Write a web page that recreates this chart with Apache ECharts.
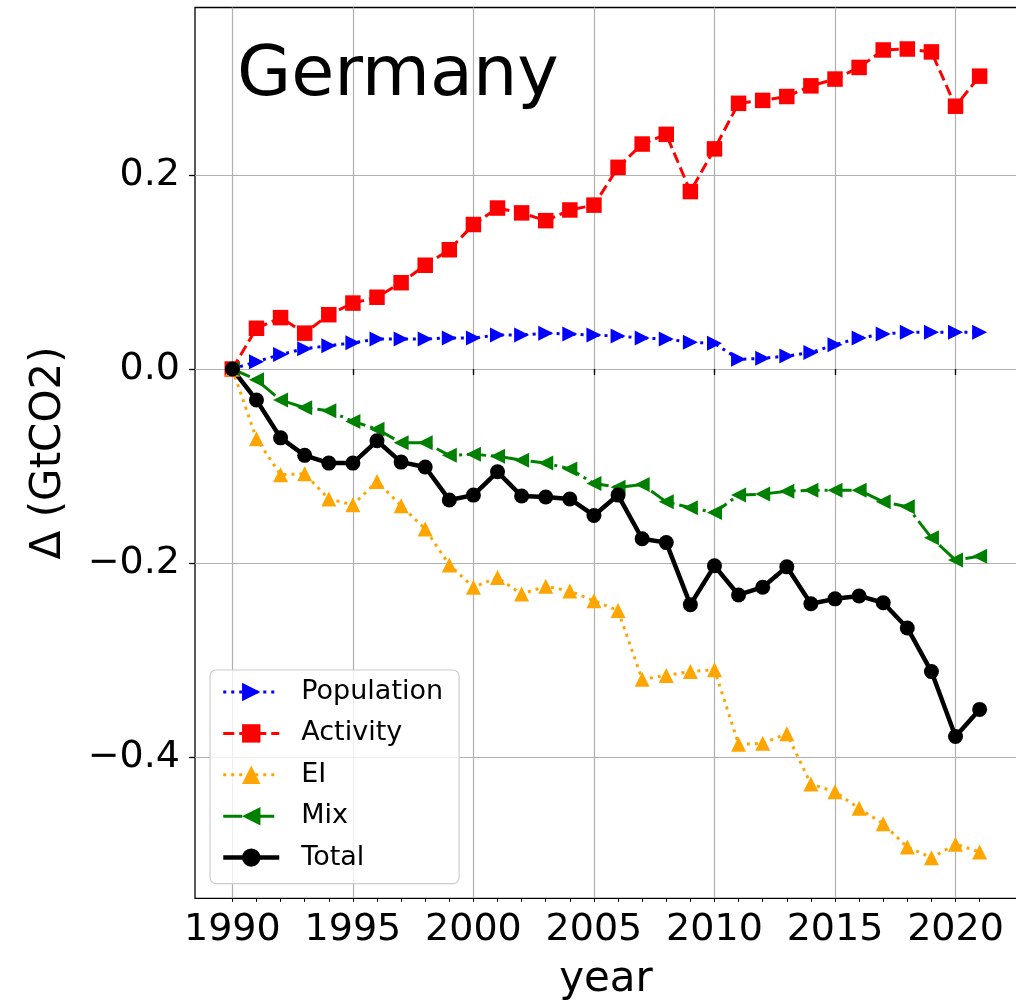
<!DOCTYPE html>
<html>
<head>
<meta charset="utf-8">
<script src="https://cdn.jsdelivr.net/npm/echarts@6/dist/echarts.min.js"></script>
<style>
html,body{margin:0;padding:0;background:#fff;}
#chart{width:1016px;height:1002px;}
</style>
</head>
<body>
<div id="chart"></div>
<script>
const years = [1990,1991,1992,1993,1994,1995,1996,1997,1998,1999,2000,2001,2002,2003,2004,2005,2006,2007,2008,2009,2010,2011,2012,2013,2014,2015,2016,2017,2018,2019,2020,2021];
const population = [0,0.0076,0.015,0.021,0.024,0.027,0.031,0.031,0.031,0.032,0.032,0.035,0.035,0.037,0.036,0.035,0.034,0.032,0.031,0.0275,0.0265,0.010,0.011,0.0134,0.017,0.025,0.032,0.036,0.038,0.038,0.038,0.038];
const activity = [0,0.042,0.053,0.037,0.056,0.068,0.074,0.089,0.107,0.123,0.149,0.166,0.161,0.153,0.164,0.169,0.208,0.232,0.242,0.183,0.227,0.274,0.277,0.281,0.292,0.299,0.311,0.329,0.330,0.327,0.271,0.302];
const ei = [0,-0.072,-0.109,-0.108,-0.134,-0.140,-0.116,-0.141,-0.165,-0.202,-0.225,-0.215,-0.232,-0.224,-0.229,-0.239,-0.249,-0.320,-0.316,-0.312,-0.310,-0.387,-0.386,-0.376,-0.428,-0.436,-0.453,-0.469,-0.493,-0.504,-0.490,-0.498];
const mix = [0,-0.011,-0.032,-0.040,-0.043,-0.054,-0.062,-0.076,-0.076,-0.089,-0.088,-0.090,-0.094,-0.097,-0.103,-0.118,-0.122,-0.119,-0.137,-0.143,-0.148,-0.130,-0.129,-0.126,-0.125,-0.125,-0.125,-0.137,-0.142,-0.174,-0.197,-0.193];
const total = [0,-0.032,-0.071,-0.089,-0.097,-0.097,-0.074,-0.096,-0.101,-0.135,-0.130,-0.106,-0.131,-0.132,-0.134,-0.151,-0.130,-0.175,-0.179,-0.243,-0.203,-0.233,-0.225,-0.204,-0.242,-0.237,-0.234,-0.241,-0.267,-0.312,-0.379,-0.351];
const xMajorTicks = [1990,1995,2000,2005,2010,2015,2020];
const yTicks = [-0.4,-0.2,0.0,0.2];
const seriesNames = ['Population','Activity','EI','Mix','Total'];
const countryName = 'Germany';

const FONT = 'DejaVu Sans';
const pairs = vals => years.map((y, i) => [y, vals[i]]);

const styles = [
  { color: '#0000ff', dash: [3, 5], width: 3, symbol: 'triangle', rotate: -90, size: 15 },
  { color: '#ff0000', dash: [11, 5], width: 3, symbol: 'rect', rotate: 0, size: 15.5 },
  { color: '#ffa500', dash: [3, 5], width: 3, symbol: 'triangle', rotate: 0, size: 15 },
  { color: '#008000', dash: [19, 5, 3, 5], width: 3, symbol: 'triangle', rotate: 90, size: 15 },
  { color: '#000000', dash: 'solid', width: 4.5, symbol: 'circle', rotate: 0, size: 15 }
];
const valuesList = [population, activity, ei, mix, total];

const series = seriesNames.map((name, i) => {
  const s = styles[i];
  return {
    name: name,
    type: 'line',
    xAxisIndex: 0,
    yAxisIndex: 0,
    data: pairs(valuesList[i]),
    symbol: s.symbol,
    symbolSize: s.size,
    symbolRotate: s.rotate,
    showSymbol: true,
    lineStyle: { color: s.color, width: s.width, type: s.dash, cap: 'butt' },
    itemStyle: { color: s.color, borderWidth: 0 },
    emphasis: { disabled: true },
    z: 3
  };
});

const legendData = seriesNames.map((name, i) => {
  const s = styles[i];
  return {
    name: name,
    lineStyle: { color: s.color, width: s.width, type: s.dash, cap: 'butt' },
    itemStyle: { color: s.color, borderWidth: 0 }
  };
});

const chart = echarts.init(document.getElementById('chart'), null, { renderer: 'canvas' });
chart.setOption({
  animation: false,
  backgroundColor: '#ffffff',
  grid: {
    left: 195, right: -1, top: 7.5, bottom: 103.7,
    outerBoundsMode: 'none',
    containLabel: false,
    show: true, borderColor: '#000000', borderWidth: 1.3, backgroundColor: 'transparent'
  },
  xAxis: [
    {
      type: 'value', min: 1988.45, max: 2022.55,
      name: 'year', nameLocation: 'middle', nameGap: 61,
      nameTextStyle: { fontFamily: FONT, fontSize: 42, color: '#000' },
      axisLine: { show: false },
      axisTick: { show: true, length: 6, lineStyle: { color: '#000', width: 1.3 }, customValues: xMajorTicks },
      axisLabel: { fontFamily: FONT, fontSize: 38, color: '#000', margin: 13, customValues: xMajorTicks, formatter: v => String(v) },
      splitLine: { show: true, lineStyle: { color: '#b0b0b0', width: 1.2 } }
    },
    {
      type: 'value', min: 1988.45, max: 2022.55, position: 'bottom', offset: 0,
      axisLine: { show: false },
      axisTick: { show: true, length: 3.5, lineStyle: { color: '#000', width: 1 }, customValues: years },
      axisLabel: { show: false },
      splitLine: { show: false }
    }
  ],
  yAxis: {
    type: 'value', min: -0.5458, max: 0.3728,
    name: 'Δ (GtCO2)', nameLocation: 'middle', nameGap: 125, nameRotate: 90,
    nameTextStyle: { fontFamily: FONT, fontSize: 42, color: '#000' },
    axisLine: { show: false },
    axisTick: { show: true, length: 6, lineStyle: { color: '#000', width: 1.3 }, customValues: yTicks },
    axisLabel: { fontFamily: FONT, fontSize: 38, color: '#000', margin: 15, customValues: yTicks,
      formatter: v => (v < -1e-9 ? '\u2212' : '') + Math.abs(v).toFixed(1) },
    splitLine: { show: true, lineStyle: { color: '#b0b0b0', width: 1.2 } }
  },
  legend: {
    orient: 'vertical',
    left: 210, top: 670,
    data: legendData,
    itemWidth: 56, itemHeight: 23, itemGap: 14.4,
    padding: [8.5, 16, 12.5, 11],
    backgroundColor: 'rgba(255,255,255,0.8)',
    borderColor: '#cccccc', borderWidth: 1.2, borderRadius: 6,
    textStyle: { fontFamily: FONT, fontSize: 27, color: '#000', lineHeight: 27, padding: [0, 0, 0, 17] },
    selectedMode: false
  },
  graphic: [{
    type: 'text',
    style: { x: 237, y: 77, text: countryName, font: '70px "DejaVu Sans"', fill: '#000', verticalAlign: 'middle', align: 'left' },
    z: 10
  }],
  series: series
});
</script>
</body>
</html>
